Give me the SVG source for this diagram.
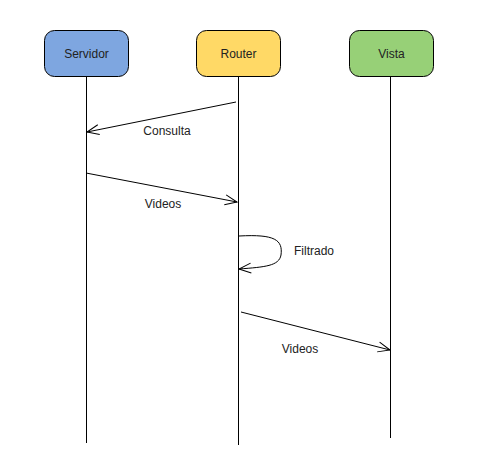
<svg xmlns="http://www.w3.org/2000/svg" width="490" height="471" viewBox="0 0 490 471">
<style>
.box{stroke:#000;stroke-width:1}
.lbl{font-family:"Liberation Sans",Arial,sans-serif;font-size:12px;fill:#222;text-anchor:middle}
.life{stroke:#000;stroke-width:1;fill:none}
.msg{stroke:#000;stroke-width:1;fill:none}
</style>
<defs>
<marker id="open" markerWidth="14" markerHeight="12" refX="13" refY="6" orient="auto" markerUnits="userSpaceOnUse">
<path d="M1,1 L13,6 L1,11" fill="none" stroke="#000" stroke-width="1"/>
</marker>
</defs>
<g id="servidor">
<rect class="box" x="44.5" y="30.5" width="84" height="46" rx="10" fill="#7EA6E0"/>
<text class="lbl" x="86.5" y="58">Servidor</text>
</g>
<g id="router">
<rect class="box" x="196.5" y="30.5" width="84" height="46" rx="10" fill="#FFD966"/>
<text class="lbl" x="238.5" y="58">Router</text>
</g>
<g id="vista">
<rect class="box" x="349.5" y="30.5" width="84" height="46" rx="10" fill="#97D077"/>
<text class="lbl" x="391.5" y="58">Vista</text>
</g>
<g id="connectors">
<line class="life" x1="86.5" y1="77" x2="86.5" y2="443"/>
<line class="life" x1="238.5" y1="77" x2="238.5" y2="445" stroke="#666"/>
<line class="life" x1="390.5" y1="77" x2="390.5" y2="438"/>
<line class="msg" x1="236" y1="102" x2="87" y2="132" marker-end="url(#open)"/>
<line class="msg" x1="86" y1="173" x2="237" y2="202" marker-end="url(#open)"/>
<path class="msg" d="M239,236 C275,234 283,240 281,255 C279,266 265,267 239,269" marker-end="url(#open)"/>
<line class="msg" x1="241" y1="312" x2="390" y2="350" marker-end="url(#open)"/>
</g>
<text class="lbl" x="167" y="135">Consulta</text>
<text class="lbl" x="163" y="208">Videos</text>
<text class="lbl" x="314" y="255">Filtrado</text>
<text class="lbl" x="300" y="353">Videos</text>
</svg>
